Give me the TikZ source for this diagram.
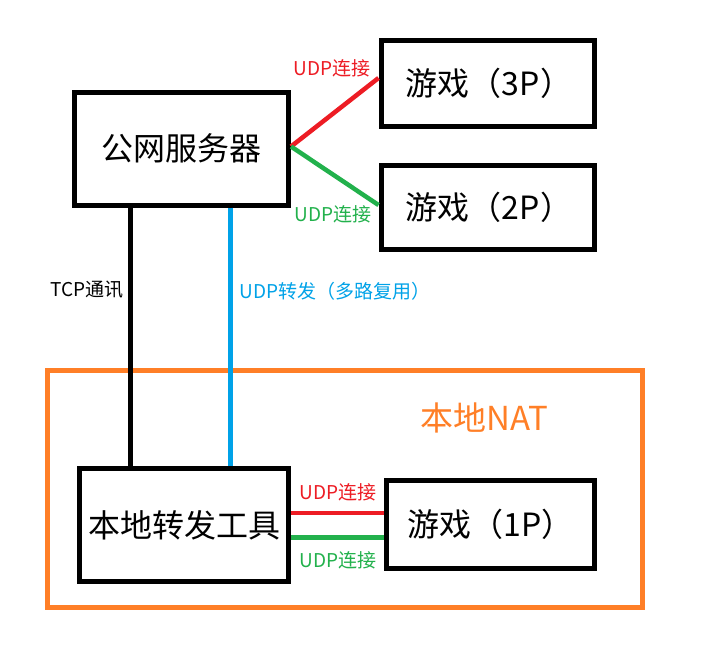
\documentclass[tikz,border=0pt]{standalone}
\usepackage{fontspec}
\setmainfont{Noto Sans CJK SC}
\definecolor{pred}{HTML}{ED1C24}
\definecolor{pgreen}{HTML}{22B14C}
\definecolor{pblue}{HTML}{00A2E8}
\definecolor{porange}{HTML}{FF7F27}
\begin{document}
\begin{tikzpicture}[x=1pt,y=-1pt,
  box/.style={draw=black,line width=5pt,inner sep=0pt,fill=white,font=\fontsize{32}{38}\selectfont},
  lbl/.style={inner sep=0pt,font=\fontsize{19}{23}\selectfont},
  conn/.style={line width=4.5pt}]
\useasboundingbox (0,0) rectangle (701,662);
\fill[white] (0,0) rectangle (701,662);
\node[draw=porange,line width=5pt,minimum width=595pt,minimum height=237pt,inner sep=0pt] (nat) at (345,489) {};
\node[lbl,text=porange,font=\fontsize{33}{38}\selectfont] (natl) at (484,418) {本地NAT};
\node[box,minimum width=214pt,minimum height=113pt] (srv) at (181.5,148.5) {公网服务器};
\node[box,minimum width=213pt,minimum height=86pt] (p3) at (487.5,83.5) {\hspace{3pt}游戏（3P）};
\node[box,minimum width=213pt,minimum height=84pt] (p2) at (487.5,207.5) {\hspace{3pt}游戏（2P）};
\node[box,minimum width=209pt,minimum height=113pt] (tool) at (184,525) {本地转发工具};
\node[box,minimum width=208pt,minimum height=88pt] (p1) at (490.5,524.5) {游戏（1P）};
\coordinate (tcpx) at (130.5,0);
\coordinate (udpx) at (230.5,0);
\coordinate (ry) at (0,513);
\coordinate (gy) at (0,537.5);
\draw[conn,black] (srv.south -| tcpx) -- (tool.north -| tcpx);
\draw[conn,pblue] (srv.south -| udpx) -- (tool.north -| udpx);
\draw[conn,pred] ([yshift=2pt]srv.east) -- ([yshift=5.5pt]p3.west);
\draw[conn,pgreen] ([yshift=2pt]srv.east) -- ([yshift=2.5pt]p2.west);
\draw[conn,pred] (tool.east |- ry) -- (p1.west |- ry);
\draw[conn,pgreen] (tool.east |- gy) -- (p1.west |- gy);
\node[lbl,text=pred] (l1) at (332,68) {UDP连接};
\node[lbl,text=pgreen] (l2) at (333,214) {UDP连接};
\node[lbl,text=black] (l3) at (87,290) {TCP通讯};
\node[lbl,text=pblue] (l4) at (335,291) {UDP转发（多路复用）};
\node[lbl,text=pred] (l5) at (338,492) {UDP连接};
\node[lbl,text=pgreen] (l6) at (338,560) {UDP连接};
\end{tikzpicture}
\end{document}
